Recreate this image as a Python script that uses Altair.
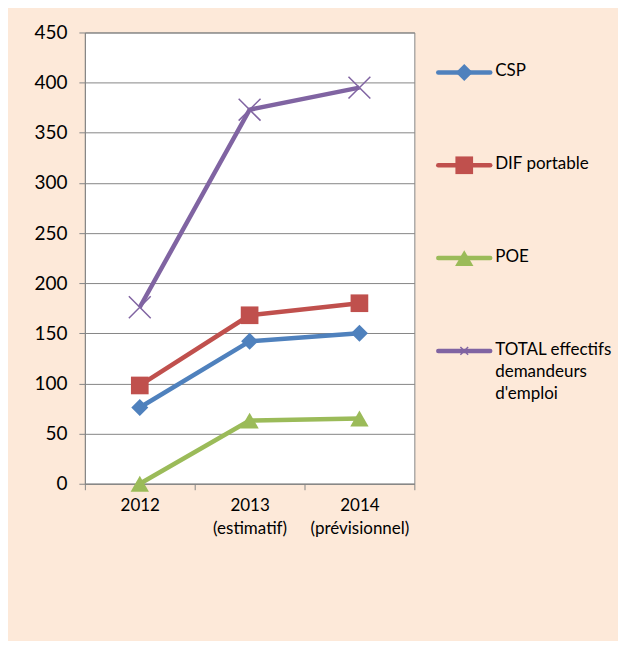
import altair as alt
import pandas as pd

years = ["2012", "2013\n(estimatif)", "2014\n(prévisionnel)"]
series = ["CSP", "DIF portable", "POE", "TOTAL  effectifs\ndemandeurs\nd'emploi"]
csp = [76, 142, 150]
dif = [98, 168, 180]
poe = [0, 63, 65]
total = [176, 373, 395]
y_ticks = [0, 50, 100, 150, 200, 250, 300, 350, 400, 450]

colors = ["#4F81BD", "#C0504D", "#9BBB59", "#8064A2"]
shapes = ["diamond", "square", "triangle-up", "M-1,-1L1,1M1,-1L-1,1"]

rows = []
for s, vals in zip(series, [csp, dif, poe, total]):
    for yr, v in zip(years, vals):
        rows.append({"year": yr, "series": s, "value": v})
df = pd.DataFrame(rows)
leg = pd.DataFrame({"series": series})

FONT = "Lato"
color_scale = alt.Scale(domain=series, range=colors)
shape_scale = alt.Scale(domain=series, range=shapes)

x_enc = alt.X("year:N", sort=years, title=None,
              scale=alt.Scale(paddingInner=0, paddingOuter=0),
              axis=alt.Axis(labelAngle=0, labelExpr="split(datum.label, '\\n')",
                            labelFont=FONT, labelFontSize=17, labelColor="#000000",
                            labelLineHeight=23, labelBaseline="top", labelPadding=8,
                            tickBand="extent", tickSize=6, tickColor="#868686",
                            domainColor="#868686", grid=False))
y_enc = alt.Y("value:Q", title=None,
              scale=alt.Scale(domain=[0, 450], nice=False),
              axis=alt.Axis(values=y_ticks, labelFont=FONT, labelFontSize=19,
                            labelColor="#000000", labelPadding=12, tickSize=6,
                            tickColor="#868686", domainColor="#868686",
                            gridColor="#868686", gridWidth=1))

base = alt.Chart(df).encode(x=x_enc, y=y_enc,
                            color=alt.Color("series:N", scale=color_scale, legend=None))

lines = base.mark_line(strokeWidth=4.5).encode(detail="series:N")
filled_pts = base.transform_filter(alt.datum.series != series[3]).mark_point(
    filled=True, opacity=1, strokeWidth=0).encode(
    shape=alt.Shape("series:N", scale=shape_scale, legend=None),
    size=alt.Size("series:N", scale=alt.Scale(domain=series, range=[290, 360, 330, 480]), legend=None))
x_pts = base.transform_filter(alt.datum.series == series[3]).mark_point(
    filled=False, opacity=1, strokeWidth=1.5, shape=shapes[3], size=480)

main = alt.layer(lines, filled_pts, x_pts).properties(
    width=330, height=452,
    view=alt.ViewBackground(fill="white", stroke="#868686", strokeWidth=1))

ly = alt.Y("series:N", sort=series, axis=None,
           scale=alt.Scale(type="point", range=[40, 319], padding=0))
lbase = alt.Chart(leg).encode(y=ly)
lcolor = alt.Color("series:N", scale=color_scale, legend=None)
lrule = lbase.mark_rule(strokeWidth=4.5, strokeCap="round").encode(
    x=alt.value(2), x2=alt.value(54), color=lcolor)
lpts = lbase.transform_filter(alt.datum.series != series[3]).mark_point(
    filled=True, opacity=1, strokeWidth=0).encode(
    x=alt.value(28), color=lcolor,
    shape=alt.Shape("series:N", scale=shape_scale, legend=None),
    size=alt.Size("series:N", scale=alt.Scale(domain=series, range=[36, 85, 75, 60]), legend=None))
lx = lbase.transform_filter(alt.datum.series == series[3]).mark_point(
    filled=False, opacity=1, strokeWidth=1.5, shape=shapes[3], size=60).encode(
    x=alt.value(28), color=lcolor)
ltext = lbase.mark_text(align="left", baseline="top", dy=-9, lineBreak="\n",
                        lineHeight=22, font=FONT, fontSize=17, color="#000000").encode(
    x=alt.value(59), text="series:N")
legend_chart = alt.layer(lrule, lpts, lx, ltext).properties(
    width=182, height=452,
    view=alt.ViewBackground(stroke=None, strokeWidth=0))

chart = alt.hconcat(main, legend_chart, spacing=20).properties(
    background="#FDE9D9",
    padding={"left": 25, "top": 14, "right": 0, "bottom": 103},
).configure_view(stroke=None)

chart.save("out.html", embed_options={"renderer": "svg", "actions": False})
